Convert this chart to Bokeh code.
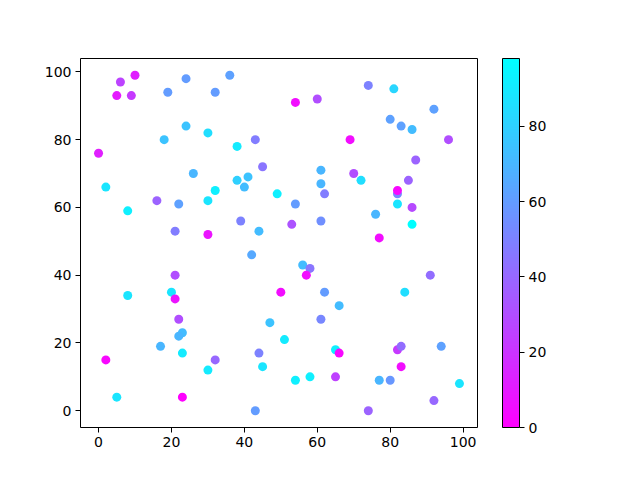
from bokeh.plotting import figure
from bokeh.models import ColumnDataSource, LinearColorMapper, ColorBar, Range1d, FixedTicker
from bokeh.embed import file_html
from bokeh.resources import INLINE

x = [10, 6, 5, 9, 24, 36, 19, 32, 24, 30, 18, 43, 38, 0, 45, 26, 2, 38, 41, 40,
     32, 49, 30, 16, 22, 8, 39, 44, 21, 30,
     74, 81, 54, 60, 92, 80, 83, 86, 69, 96, 87, 61, 70, 72, 61, 85, 82, 62, 54,
     82, 86, 76, 53, 61, 86, 77,
     42, 21, 8, 20, 21, 50, 22, 47, 23, 22, 17, 23, 2, 32, 44, 45, 30, 5, 23, 43,
     56, 58, 57, 91, 62, 84, 66, 61, 51, 65, 66, 82, 83, 94, 83, 58, 54, 65, 77, 80,
     99, 92, 74, 82]
y = [99, 97, 93, 93, 98, 99, 94, 94, 84, 82, 80, 80, 78, 76, 72, 70, 66, 68, 69, 66,
     65, 64, 62, 62, 61, 59, 56, 53, 53, 52,
     96, 95, 91, 92, 89, 86, 84, 83, 80, 80, 74, 71, 70, 68, 67, 68, 64, 64, 61,
     61, 60, 58, 55, 56, 55, 51,
     46, 40, 34, 35, 33, 35, 27, 26, 23, 22, 19, 17, 15, 15, 17, 13, 12, 4, 4, 0,
     43, 42, 40, 40, 35, 35, 31, 27, 21, 18, 17, 18, 19, 19, 13, 10, 9, 10, 9, 9,
     8, 3, 0, 65]
c = [12, 26, 10, 22, 60, 62, 60, 60, 75, 85, 75, 48, 90, 12, 45, 70, 88, 80, 75, 72,
     92, 92, 88, 38, 62, 92, 50, 72, 48, 8,
     50, 82, 5, 30, 62, 62, 62, 72, 5, 30, 38, 70, 30, 85, 70, 38, 52, 48, 60,
     88, 28, 70, 32, 55, 98, 5,
     65, 30, 88, 88, 8, 5, 30, 75, 72, 70, 70, 90, 3, 40, 50, 88, 90, 88, 0, 60,
     72, 45, 5, 42, 60, 85, 72, 52, 90, 92, 3, 22, 42, 62, 5, 92, 92, 25, 70, 58,
     88, 40, 38, 3]

palette = []
for i in range(256):
    t = i / 255
    r = int(round((1 - t) * 255)); g = int(round(t * 255))
    palette.append("#%02x%02xff" % (r, g))

mapper = LinearColorMapper(palette=palette, low=min(c), high=max(c))

p = figure(output_backend="svg", toolbar_location=None,
           frame_width=397, frame_height=369,
           min_border_left=80, min_border_top=58, min_border_bottom=45, min_border_right=10,
           x_range=Range1d(-4.95, 103.95), y_range=Range1d(-4.95, 103.95))
p.width = 624
p.height = 472

src = ColumnDataSource(dict(x=x, y=y, c=c))
p.scatter("x", "y", source=src, size=9, line_color=None,
          fill_color={"field": "c", "transform": mapper})

p.xgrid.visible = False
p.ygrid.visible = False
p.outline_line_color = "black"
p.outline_line_alpha = 1
p.outline_line_width = 1

for ax in (p.xaxis[0], p.yaxis[0]):
    ax.ticker = FixedTicker(ticks=[0, 20, 40, 60, 80, 100])
    ax.major_label_text_font = "DejaVu Sans"
    ax.major_label_text_font_size = "14px"
    ax.major_label_text_color = "black"
    ax.major_tick_in = 0
    ax.major_tick_out = 5
    ax.minor_tick_line_color = None
    ax.axis_line_color = None
    ax.major_tick_line_color = "black"
    ax.major_label_standoff = 4

cb = ColorBar(color_mapper=mapper, width=17, height=369, padding=0, margin=0,
              ticker=FixedTicker(ticks=[0, 20, 40, 60, 80]),
              major_label_text_font="DejaVu Sans", major_label_text_font_size="14px",
              major_label_text_color="black",
              major_tick_in=0, major_tick_out=5, major_tick_line_color="black",
              minor_tick_line_color=None, bar_line_color="black",
              background_fill_color=None, border_line_color=None, label_standoff=4,
              location=(25, 0))
p.add_layout(cb, "right")

open("out.html", "w").write(file_html(p, INLINE))
